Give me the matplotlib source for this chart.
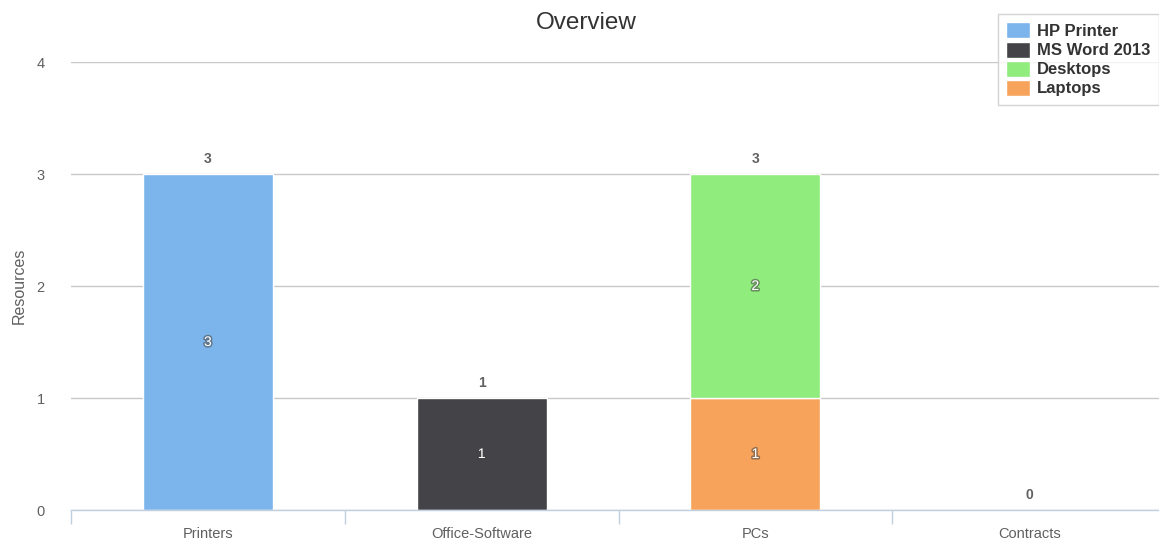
import matplotlib
matplotlib.use("Agg")
import matplotlib.pyplot as plt
import matplotlib.patheffects as pe
import numpy as np

plt.rcParams['font.family'] = ['Liberation Sans', 'DejaVu Sans']

categories = ["Printers", "Office-Software", "PCs", "Contracts"]
series_names = ["HP Printer", "MS Word 2013", "Desktops", "Laptops"]
hp_printer = [3, 0, 0, 0]
ms_word = [0, 1, 0, 0]
desktops = [0, 0, 2, 0]
laptops = [0, 0, 1, 0]
colors = ["#7cb5ec", "#434348", "#90ed7d", "#f7a35c"]
y_ticks = [0, 1, 2, 3, 4]

W, H = 1159, 539
fig = plt.figure(figsize=(W / 100, H / 100), dpi=100)
ax = fig.add_axes([71 / W, 1 - 510 / H, (1166 - 71) / W, (510 - 62) / H])

x = np.arange(len(categories))
series = [hp_printer, ms_word, desktops, laptops]
bw = 0.475

# stack: last series at bottom
bottom = np.zeros(len(categories))
handles = [None] * len(series)
for i in reversed(range(len(series))):
    vals = np.array(series[i], dtype=float)
    mask = vals > 0
    bars = ax.bar(x[mask], vals[mask], bw, bottom=bottom[mask], color=colors[i],
                  edgecolor="white", linewidth=1, zorder=3)
    handles[i] = bars
    for xi, v, b in zip(x, vals, bottom):
        if v > 0:
            ax.text(xi, b + v / 2, f"{int(v)}", ha="center", va="center", color="white",
                    fontsize=10, zorder=4,
                    path_effects=[pe.withStroke(linewidth=2.2, foreground="#444444", alpha=0.55)])
    bottom = bottom + vals

for xi, t in zip(x, bottom):
    ax.annotate(f"{int(t)}", (xi, t), xytext=(0, 6), textcoords="offset points",
                ha="center", va="bottom", color="#606060", fontsize=10, fontweight="bold")

ax.set_xlim(-0.5, len(categories) - 0.5)
ax.set_ylim(0, 4)
ax.set_yticks(y_ticks)
ax.yaxis.grid(True, color="#c8c8c8", linewidth=1, zorder=0)
ax.set_axisbelow(True)
for s in ["top", "right", "left"]:
    ax.spines[s].set_visible(False)
ax.spines["bottom"].set_color("#c0d0e0")
ax.spines["bottom"].set_linewidth(1)
ax.spines["bottom"].set_zorder(5)

ax.set_xticks(x)
ax.set_xticklabels(categories, color="#606060", fontsize=10.5)
ax.tick_params(axis="x", length=0, pad=12)
ax.set_xticks(np.arange(-0.5, len(categories), 1.0), minor=True)
ax.tick_params(axis="x", which="minor", length=10, color="#c0d0e0", width=1)
ax.tick_params(axis="y", length=0, pad=19, labelcolor="#606060", labelsize=10.5)
ax.set_ylabel("Resources", color="#606060", fontsize=11.5, labelpad=7)

fig.text(586 / W, 1 - 23 / H, "Overview", ha="center", va="center", fontsize=17.5, color="#333333")

leg = fig.legend([handles[i] for i in range(len(series))], series_names,
                 loc="upper right", bbox_to_anchor=(1159 / W, 1 - 14 / H),
                 frameon=True, fancybox=False, borderpad=0.5, handlelength=1.4,
                 handleheight=1.1, handletextpad=0.45, labelspacing=0.15,
                 borderaxespad=0, prop={"weight": "bold", "size": 12}, labelcolor="#333333")
leg.get_frame().set_edgecolor("#c8c8c8")
leg.get_frame().set_linewidth(1)

fig.savefig("out.png", dpi=100)
